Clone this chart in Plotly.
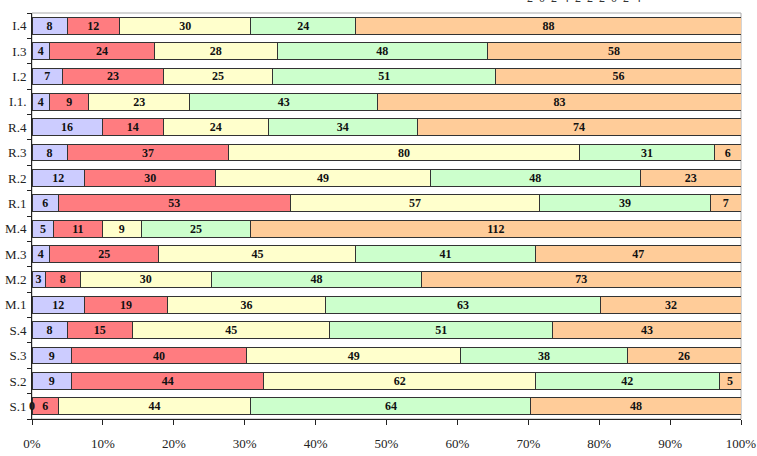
import plotly.graph_objects as go

categories = ["S.1", "S.2", "S.3", "S.4", "M.1", "M.2", "M.3", "M.4",
              "R.1", "R.2", "R.3", "R.4", "I.1.", "I.2", "I.3", "I.4"]
series1 = [0, 9, 9, 8, 12, 3, 4, 5, 6, 12, 8, 16, 4, 7, 4, 8]
series2 = [6, 44, 40, 15, 19, 8, 25, 11, 53, 30, 37, 14, 9, 23, 24, 12]
series3 = [44, 62, 49, 45, 36, 30, 45, 9, 57, 49, 80, 24, 23, 25, 28, 30]
series4 = [64, 42, 38, 51, 63, 48, 41, 25, 39, 48, 31, 34, 43, 51, 48, 24]
series5 = [48, 5, 26, 43, 32, 73, 47, 112, 7, 23, 6, 74, 83, 56, 58, 88]
colors = ["#CCCCFF", "#FF7C80", "#FFFFCC", "#CCFFCC", "#FFCC99"]
tick_vals = [0, 10, 20, 30, 40, 50, 60, 70, 80, 90, 100]
tick_text = ["0%", "10%", "20%", "30%", "40%", "50%", "60%", "70%", "80%", "90%", "100%"]
top_text = "2 0 2 4 2 2 2 0 2 4"

FONT = "Liberation Serif, Times New Roman, serif"
all_series = [series1, series2, series3, series4, series5]

fig = go.Figure()
for vals, col in zip(all_series, colors):
    fig.add_trace(go.Bar(
        y=categories, x=vals, orientation="h",
        marker=dict(color=col, line=dict(color="#333333", width=1)),
        text=[str(v) for v in vals], textposition="inside", textangle=0,
        insidetextanchor="middle",
        textfont=dict(family=FONT, size=12, color="#111111", weight="bold"),
        cliponaxis=False,
    ))

# labels for zero-size segments (not drawn by the bar trace)
totals = [sum(s[i] for s in all_series) for i in range(len(categories))]
for i, cat in enumerate(categories):
    cum = 0
    for s in all_series:
        if s[i] == 0:
            fig.add_annotation(x=cum / totals[i] * 100, y=cat, text="<b>0</b>",
                               showarrow=False, xanchor="center",
                               font=dict(family=FONT, size=12, color="#111111"))
        cum += s[i]

fig.update_layout(
    barmode="stack", barnorm="percent", bargap=0.34,
    width=757, height=456,
    margin=dict(l=32, r=16, t=13, b=37),
    paper_bgcolor="white", plot_bgcolor="white",
    showlegend=False,
    uniformtext=dict(minsize=12, mode="show"),
    font=dict(family=FONT, size=12, color="#222222"),
)
fig.update_xaxes(
    range=[0, 100], tickvals=tick_vals, ticktext=tick_text,
    showgrid=False, zeroline=False, automargin=False,
    showline=True, linecolor="#222222", linewidth=1,
    ticks="outside", ticklen=5, tickcolor="#222222",
    tickfont=dict(family=FONT, size=13, color="#222222"),
    ticklabelstandoff=7,
)
fig.update_yaxes(
    type="category", categoryorder="array", categoryarray=categories,
    showgrid=False, showline=True, linecolor="#222222", linewidth=1,
    automargin=False,
    ticks="outside", ticklen=4, tickcolor="#222222", tickson="boundaries",
    tickfont=dict(family=FONT, size=13, color="#222222"),
    ticklabelstandoff=2,
)
fig.add_shape(type="rect", xref="paper", yref="paper", x0=0, x1=1, y0=0, y1=1,
              line=dict(color="#AAAAAA", width=1), layer="below")
fig.add_annotation(text=top_text.replace(" ", "&nbsp;&nbsp;"), xref="paper", yref="paper",
                   x=0.862, y=1.0, yanchor="middle", yshift=15, showarrow=False,
                   font=dict(family=FONT, size=12, color="#333333"))

fig.write_html("out.html")
